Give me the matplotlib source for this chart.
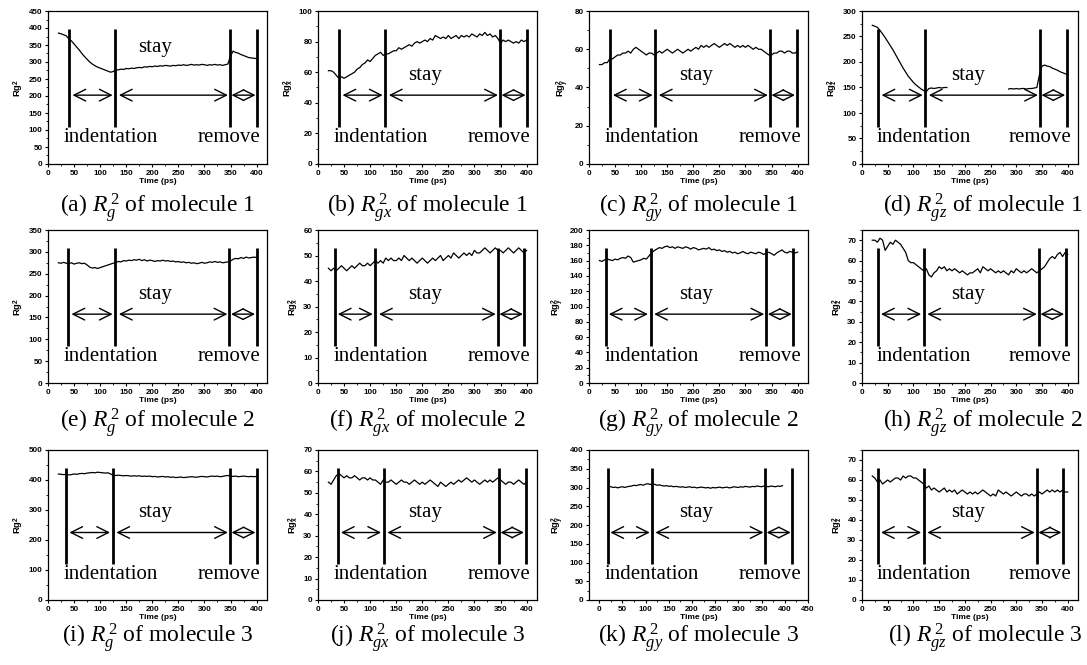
import numpy as np
import matplotlib
matplotlib.use('Agg')
import matplotlib.pyplot as plt
from matplotlib.ticker import MultipleLocator, AutoMinorLocator

nan = np.nan

# ---------------- data ----------------
TIME = list(range(20, 401, 5))  # ps

RG2_M1 = [385, 383, 380, 377, 368, 362, 353, 344, 335, 325,
          316, 308, 300, 294, 289, 285, 282, 279, 276, 273,
          270, 272, 276, 277, 279, 278, 281, 280, 282, 281,
          283, 284, 283, 286, 285, 287, 286, 288, 287, 289,
          288, 290, 289, 288, 290, 289, 291, 290, 292, 290,
          291, 293, 291, 292, 291, 293, 292, 290, 292, 291,
          293, 291, 292, 290, 292, 294, 318, 332, 328, 326,
          322, 319, 316, 313, 312, 311, 310]
RGX2_M1 = [61, 61, 60, 58, 56, 57, 56, 57, 58, 59,
           60, 62, 63, 65, 66, 68, 67, 69, 71, 72,
           73, 71, 72, 72, 73, 74, 74, 76, 75, 76,
           77, 78, 77, 79, 80, 79, 80, 81, 80, 82,
           81, 84, 83, 82, 83, 82, 84, 82, 83, 84,
           82, 84, 83, 84, 83, 85, 84, 83, 85, 84,
           86, 84, 85, 83, 84, 82, 79, 81, 80, 81,
           80, 79, 80, 79, 81, 80, 81]
RGY2_M1 = [52, 52, 53, 53, 55, 55, 56, 57, 57, 58,
           58, 59, 58, 60, 61, 60, 59, 58, 57, 58,
           58, 57, 58, 59, 58, 59, 60, 59, 58, 59,
           60, 59, 58, 59, 60, 59, 60, 61, 60, 62,
           61, 62, 61, 62, 63, 62, 61, 62, 63, 62,
           63, 62, 61, 62, 61, 62, 61, 62, 61, 60,
           61, 60, 60, 59, 58, 57, 57, 58, 58, 59,
           59, 58, 59, 59, 58, 58, 59]
RGZ2_M1 = [272, 270, 268, 262, 255, 248, 240, 232, 224, 215,
           206, 197, 188, 180, 172, 166, 160, 155, 151, 147,
           144, 142, 148, 149, 148, 149, 150, 149, 150, 150,
           nan, nan, nan, nan, nan, nan, nan, nan, nan, nan,
           nan, nan, nan, nan, nan, nan, nan, nan, nan, nan,
           nan, nan, nan, 147, 148, 147, 148, 147, 148, 148,
           147, 148, 148, 149, 150, 175, 192, 194, 192, 191,
           188, 186, 184, 181, 179, 177, 176]
RG2_M2 = [275, 274, 276, 274, 273, 275, 272, 274, 275, 273,
          274, 270, 265, 263, 264, 262, 264, 266, 268, 270,
          272, 274, 276, 278, 277, 280, 279, 281, 280, 282,
          281, 283, 280, 282, 279, 281, 280, 278, 280, 279,
          281, 279, 280, 278, 279, 277, 278, 276, 277, 275,
          276, 274, 275, 273, 274, 276, 274, 275, 277, 276,
          278, 276, 277, 275, 276, 277, 279, 283, 285, 284,
          287, 285, 288, 286, 287, 288, 287]
RGX2_M2 = [45, 44, 45, 44, 45, 46, 45, 44, 45, 46,
           45, 46, 47, 46, 46, 47, 46, 47, 48, 47,
           48, 47, 49, 48, 49, 48, 48, 49, 48, 50,
           49, 48, 49, 48, 47, 48, 49, 48, 47, 48,
           49, 48, 49, 50, 48, 49, 50, 49, 51, 50,
           49, 50, 51, 50, 51, 50, 52, 51, 51, 52,
           53, 52, 51, 52, 53, 52, 52, 51, 52, 53,
           52, 51, 52, 53, 52, 51, 52]
RGY2_M2 = [160, 159, 161, 162, 161, 160, 162, 161, 163, 164,
           163, 166, 164, 158, 159, 160, 161, 163, 162, 166,
           170, 173, 175, 177, 176, 178, 179, 177, 178, 176,
           178, 177, 176, 178, 177, 175, 177, 176, 174, 175,
           176, 175, 177, 174, 175, 173, 174, 172, 173, 171,
           172, 170, 171, 169, 170, 172, 170, 169, 171, 170,
           169, 171, 170, 168, 170, 171, 169, 167, 170, 172,
           174, 171, 170, 172, 171, 170, 171]
RGZ2_M2 = [70, 70, 69, 71, 70, 65, 67, 69, 68, 70,
           69, 68, 66, 64, 60, 59, 59, 58, 57, 56,
           55, 56, 53, 52, 54, 55, 57, 56, 57, 55,
           56, 55, 56, 55, 54, 55, 54, 53, 54, 54,
           55, 56, 54, 57, 56, 55, 56, 55, 54, 55,
           54, 55, 54, 53, 55, 54, 56, 55, 54, 55,
           54, 55, 56, 55, 54, 55, 56, 57, 59, 61,
           62, 61, 63, 64, 62, 64, 63]
RG2_M3 = [420, 419, 418, 419, 417, 418, 420, 419, 421, 422,
          421, 423, 424, 425, 424, 426, 425, 424, 423, 424,
          420, 416, 415, 416, 415, 414, 415, 414, 413, 414,
          413, 414, 412, 413, 412, 413, 411, 412, 410, 411,
          412, 410, 411, 409, 410, 408, 409, 410, 408, 409,
          410, 411, 410, 409, 411, 412, 411, 410, 412, 413,
          412, 413, 411, 412, 414, 415, 413, 412, 413, 411,
          412, 413, 412, 411, 412, 411, 412]
RGX2_M3 = [55, 54, 56, 58, 59, 58, 57, 58, 57, 57,
           58, 57, 56, 57, 57, 56, 57, 56, 56, 55,
           54, 56, 55, 55, 56, 55, 54, 55, 56, 55,
           55, 54, 55, 56, 55, 54, 55, 54, 55, 56,
           55, 54, 53, 55, 54, 53, 54, 55, 54, 55,
           56, 55, 56, 57, 56, 55, 56, 55, 54, 55,
           56, 55, 56, 55, 56, 57, 56, 55, 54, 55,
           55, 54, 55, 56, 55, 54, 55]
RGY2_M3 = [304, 302, 300, 301, 299, 301, 302, 300, 302, 303,
           304, 306, 305, 307, 308, 306, 309, 310, 308, 311,
           308, 306, 307, 305, 304, 305, 303, 304, 302, 303,
           302, 301, 302, 300, 301, 302, 300, 301, 299, 300,
           301, 300, 299, 300, 298, 300, 299, 300, 301, 299,
           300, 301, 299, 300, 302, 301, 300, 302, 301, 303,
           302, 301, 303, 302, 304, 303, 302, 304, 303, 302,
           304, 303, 302, 304, 303, 305, nan]
RGZ2_M3 = [62, 61, 59, 60, 58, 59, 60, 59, 60, 61,
           61, 60, 62, 61, 62, 62, 61, 61, 60, 59,
           58, 56, 57, 55, 56, 55, 54, 55, 56, 54,
           55, 54, 55, 53, 54, 55, 54, 53, 54, 53,
           54, 53, 54, 55, 54, 53, 52, 53, 52, 55,
           54, 53, 54, 53, 52, 53, 54, 53, 52, 53,
           53, 52, 53, 52, 53, 54, 53, 54, 55, 54,
           55, 54, 55, 54, 55, 54, 54]

SERIES = [RG2_M1, RGX2_M1, RGY2_M1, RGZ2_M1,
          RG2_M2, RGX2_M2, RGY2_M2, RGZ2_M2,
          RG2_M3, RGX2_M3, RGY2_M3, RGZ2_M3]

# phase boundaries (ps): start indentation, start stay, start remove, end
PHASES = [[41, 129, 349, 401], [41, 129, 349, 401], [40, 127, 347, 398], [32, 123, 346, 398],
          [39, 129, 348, 400], [32, 110, 345, 396], [32, 118, 340, 392], [31, 120, 344, 396],
          [35, 124, 349, 401], [38, 126, 347, 398], [18, 114, 358, 416], [31, 120, 340, 391]]

YMAX = [450, 100, 80, 300, 350, 60, 200, 75, 500, 70, 400, 75]
YSTEP = [50, 20, 20, 50, 50, 10, 20, 10, 100, 10, 50, 10]
XLIM = [(0, 420)] * 10 + [(-22, 441), (0, 420)]
XMAXTICK = [400] * 10 + [450, 400]

COMPONENTS = ['', 'x', 'y', 'z']
MOLECULES = ['1', '2', '3']
LETTERS = ['a', 'b', 'c', 'd', 'e', 'f', 'g', 'h', 'i', 'j', 'k', 'l']

# ---------------- styling ----------------
plt.rcParams['font.family'] = 'Liberation Sans'
plt.rcParams['mathtext.fontset'] = 'custom'
plt.rcParams['mathtext.rm'] = 'Liberation Serif'
plt.rcParams['mathtext.it'] = 'Liberation Serif:italic'
plt.rcParams['mathtext.bf'] = 'Liberation Serif:bold'
plt.rcParams['mathtext.sf'] = 'Liberation Sans:bold'

W, H = 1087, 665
fig = plt.figure(figsize=(W / 100, H / 100), dpi=100)

col_left = [48, 318, 589, 862]
col_right = [267, 537, 808, 1078]
row_top = [11, 230, 450]
row_bot = [164, 383, 600]
cap_y = [208, 423, 638]

serif = 'Liberation Serif'

for idx in range(12):
    r, c = divmod(idx, 4)
    l, rt = col_left[c], col_right[c]
    t, b = row_top[r], row_bot[r]
    ax = fig.add_axes([l / W, 1 - b / H, (rt - l) / W, (b - t) / H])
    y = SERIES[idx]
    n = min(len(TIME), len(y))
    ax.plot(TIME[:n], y[:n], color='black', lw=0.9)
    ax.set_xlim(*XLIM[idx])
    ax.set_ylim(0, YMAX[idx])
    ax.set_xticks(np.arange(0, XMAXTICK[idx] + 1, 50))
    ax.yaxis.set_major_locator(MultipleLocator(YSTEP[idx]))
    ax.xaxis.set_minor_locator(AutoMinorLocator(2))
    ax.yaxis.set_minor_locator(AutoMinorLocator(2))
    ax.tick_params(which='major', direction='out', length=2.5, width=0.8,
                   labelsize=5.8, pad=1.5)
    ax.tick_params(which='minor', direction='out', length=1.5, width=0.6)
    for lab in ax.get_xticklabels() + ax.get_yticklabels():
        lab.set_fontweight('bold')
    for s in ax.spines.values():
        s.set_linewidth(0.9)
    comp = COMPONENTS[c]
    if comp:
        ylab = r'$\mathsf{Rg}_{\mathsf{%s}}^{\mathsf{2}}$' % comp
    else:
        ylab = r'$\mathsf{Rg}^{\mathsf{2}}$'
    ax.set_ylabel(ylab, fontsize=6.8, labelpad=2)
    ax.set_xlabel('Time (ps)', fontsize=6, fontweight='bold', labelpad=1)

    # phase markers
    trans = ax.get_xaxis_transform()
    p = PHASES[idx]
    for xv in p:
        ax.plot([xv, xv], [0.24, 0.88], transform=trans, color='black',
                lw=2.0, solid_capstyle='butt', clip_on=False)
    ya = 0.45
    segs = [(p[0] + 6, p[1] - 5), (p[1] + 7, p[2] - 4), (p[2] + 3, p[3] - 3)]
    for k, (x1, x2) in enumerate(segs):
        ms = 21 if k < 2 else 19
        ax.annotate('', xy=(x2, ya), xytext=(x1, ya), xycoords=trans,
                    textcoords=trans,
                    arrowprops=dict(arrowstyle='<->', lw=1.0, color='black',
                                    mutation_scale=ms, shrinkA=0, shrinkB=0))
    stay_y = 0.76 if idx == 0 else 0.58
    ax.text(0.49, stay_y, 'stay', transform=ax.transAxes, ha='center',
            va='center', fontsize=15, family=serif)
    ax.text(0.285, 0.17, 'indentation', transform=ax.transAxes, ha='center',
            va='center', fontsize=15, family=serif)
    ax.text(0.825, 0.17, 'remove', transform=ax.transAxes, ha='center',
            va='center', fontsize=15, family=serif)

    # caption
    sub = 'g' + comp
    cap = '(%s) $R_{%s}^{\\,2}$ of molecule %s' % (LETTERS[idx], sub, MOLECULES[r])
    if c < 3:
        fig.text(((l + rt) / 2) / W, 1 - cap_y[r] / H, cap, ha='center',
                 va='center', fontsize=17, family=serif)
    else:
        fig.text(1083 / W, 1 - cap_y[r] / H, cap, ha='right',
                 va='center', fontsize=17, family=serif)

fig.savefig('out.png', dpi=100, facecolor='white')
